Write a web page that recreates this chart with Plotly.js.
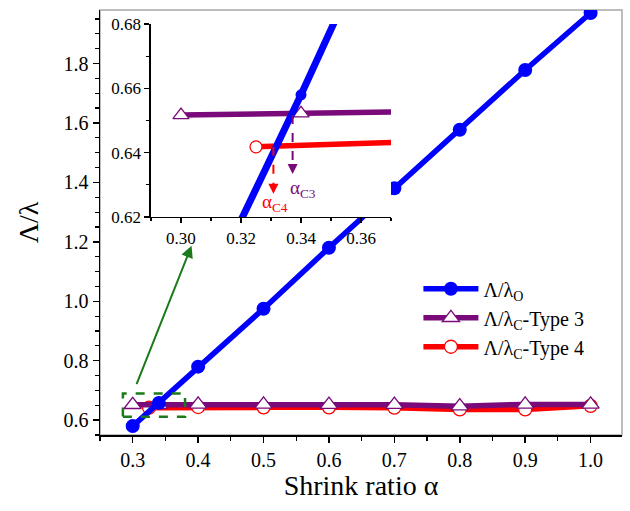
<!DOCTYPE html>
<html><head><meta charset="utf-8">
<script src="https://cdn.plot.ly/plotly-3.0.1.min.js"></script>
<style>
html,body{margin:0;padding:0;background:#fff}#chart{width:630px;height:511px}
</style>
</head><body><div id="chart"></div>
<script>
// ---- data ----
const alphaO  = [0.30, 0.34, 0.40, 0.50, 0.60, 0.70, 0.80, 0.90, 1.00];
const ratioO  = [0.580, 0.658, 0.780, 0.975, 1.180, 1.380, 1.577, 1.778, 1.970];
const alphaC3 = [0.30, 0.34, 0.40, 0.50, 0.60, 0.70, 0.80, 0.90, 1.00];
const ratioC3 = [0.6517, 0.6522, 0.653, 0.653, 0.652, 0.652, 0.647, 0.653, 0.653];
const alphaC4 = [0.325, 0.40, 0.50, 0.60, 0.70, 0.80, 0.90, 1.00];
const ratioC4 = [0.6418, 0.6440, 0.643, 0.643, 0.642, 0.636, 0.636, 0.648];
const seriesNames = ['Λ/λ<sub>O</sub>', 'Λ/λ<sub>C</sub>-Type 3', 'Λ/λ<sub>C</sub>-Type 4'];
const xTickVals = [0.3, 0.4, 0.5, 0.6, 0.7, 0.8, 0.9, 1.0];
const xTickText = ['0.3', '0.4', '0.5', '0.6', '0.7', '0.8', '0.9', '1.0'];
const yTickVals = [0.6, 0.8, 1.0, 1.2, 1.4, 1.6, 1.8];
const yTickText = ['0.6', '0.8', '1.0', '1.2', '1.4', '1.6', '1.8'];
const inXTickVals = [0.30, 0.32, 0.34, 0.36];
const inXTickText = ['0.30', '0.32', '0.34', '0.36'];
const inYTickVals = [0.62, 0.64, 0.66, 0.68];
const inYTickText = ['0.62', '0.64', '0.66', '0.68'];
const critLabels = ['α<sub>C4</sub>', 'α<sub>C3</sub>'];
const critAlpha = [0.3308, 0.3372];
const critStart = [0.6418, 0.6517];

const BLUE = '#0000ff', PURPLE = '#7a0a7a', RED = '#ff0000', GREEN = '#1b7a1b';
const FONT = 'Liberation Serif';

const traces = [
  {x: alphaC4, y: ratioC4, name: seriesNames[2], mode: 'lines+markers', xaxis: 'x', yaxis: 'y',
   legendrank: 3, line: {color: RED, width: 5.5},
   marker: {symbol: 'circle', size: 13, color: '#ffffff', line: {color: RED, width: 1.3}}},
  {x: alphaC3, y: ratioC3, name: seriesNames[1], mode: 'lines+markers', xaxis: 'x', yaxis: 'y',
   legendrank: 2, line: {color: PURPLE, width: 5.5},
   marker: {symbol: 'triangle-up', size: 15, color: '#ffffff', line: {color: PURPLE, width: 1.3}}},
  {x: alphaO, y: ratioO, name: seriesNames[0], mode: 'lines+markers', xaxis: 'x', yaxis: 'y',
   legendrank: 1, line: {color: BLUE, width: 5.5},
   marker: {symbol: 'circle', size: 14, color: BLUE}},
  {x: alphaC4, y: ratioC4, mode: 'lines+markers', xaxis: 'x3', yaxis: 'y3', showlegend: false,
   line: {color: RED, width: 5.5},
   marker: {symbol: 'circle', size: 12, color: '#ffffff', line: {color: RED, width: 1.3}}},
  {x: alphaC3, y: ratioC3, mode: 'lines+markers', xaxis: 'x3', yaxis: 'y3', showlegend: false,
   line: {color: PURPLE, width: 5.5},
   marker: {symbol: 'triangle-up', size: 14, color: '#ffffff', line: {color: PURPLE, width: 1.3}}},
  {x: alphaO, y: ratioO, mode: 'lines+markers', xaxis: 'x3', yaxis: 'y3', showlegend: false,
   line: {color: BLUE, width: 7},
   marker: {symbol: 'circle', size: 11, color: BLUE}}
];

const tickFont = {family: FONT, size: 20, color: '#000'};
const inFont = {family: FONT, size: 17, color: '#000'};

const layout = {
  width: 630, height: 511,
  margin: {l: 100, r: 8, t: 10, b: 76},
  paper_bgcolor: '#ffffff', plot_bgcolor: '#ffffff',
  font: {family: FONT, color: '#000'},
  showlegend: true,
  legend: {x: 0.61, y: 0.39, xanchor: 'left', yanchor: 'top', bgcolor: 'rgba(0,0,0,0)',
           font: {family: FONT, size: 20, color: '#000'}, traceorder: 'normal',
           itemwidth: 55},
  xaxis: {domain: [0, 1], anchor: 'y', range: [0.25, 1.048],
          tickmode: 'array', tickvals: xTickVals, ticktext: xTickText,
          ticks: 'outside', ticklen: 6, tickwidth: 1.5, tickcolor: '#000',
          minor: {dtick: 0.05, tick0: 0.3, ticks: 'outside', ticklen: 4, tickwidth: 1.2, tickcolor: '#000'},
          showline: true, linecolor: '#000', linewidth: 1.5, showgrid: false, zeroline: false,
          tickfont: tickFont,
          title: {text: 'Shrink ratio α', font: {family: FONT, size: 28, color: '#000'}, standoff: 6}},
  yaxis: {domain: [0, 1], anchor: 'x', range: [0.55, 1.98],
          tickmode: 'array', tickvals: yTickVals, ticktext: yTickText,
          ticks: 'outside', ticklen: 6, tickwidth: 1.5, tickcolor: '#000',
          minor: {dtick: 0.05, tick0: 0.6, ticks: 'outside', ticklen: 4, tickwidth: 1.2, tickcolor: '#000'},
          showline: true, linecolor: '#000', linewidth: 1.5, showgrid: false, zeroline: false,
          tickfont: tickFont,
          title: {text: 'Λ/λ', font: {family: FONT, size: 28, color: '#000'}, standoff: 16}},
  xaxis2: {domain: [0.006, 0.569], anchor: 'y2', range: [0, 1], showline: true, mirror: true,
           linecolor: '#bcd9bc', linewidth: 1.5, showticklabels: false, ticks: '', showgrid: false,
           zeroline: false, fixedrange: true},
  yaxis2: {domain: [0.452, 0.99], anchor: 'x2', range: [0, 1], showline: true, mirror: true,
           linecolor: '#bcd9bc', linewidth: 1.5, showticklabels: false, ticks: '', showgrid: false,
           zeroline: false, fixedrange: true},
  xaxis3: {domain: [0.0977, 0.5575], anchor: 'y3', range: [0.29, 0.37],
           tickmode: 'array', tickvals: inXTickVals, ticktext: inXTickText,
           ticks: 'outside', ticklen: 5, tickwidth: 1.5, tickcolor: '#000',
           minor: {dtick: 0.01, tick0: 0.29, ticks: 'outside', ticklen: 3, tickwidth: 1.2, tickcolor: '#000'},
           showline: true, linecolor: '#000', linewidth: 1.5, showgrid: false, zeroline: false,
           tickfont: inFont},
  yaxis3: {domain: [0.513, 0.967], anchor: 'x3', range: [0.62, 0.68],
           tickmode: 'array', tickvals: inYTickVals, ticktext: inYTickText,
           ticks: 'outside', ticklen: 5, tickwidth: 1.5, tickcolor: '#000',
           minor: {dtick: 0.01, tick0: 0.62, ticks: 'outside', ticklen: 3, tickwidth: 1.2, tickcolor: '#000'},
           showline: true, linecolor: '#000', linewidth: 1.5, showgrid: false, zeroline: false,
           tickfont: inFont},
  shapes: [
    {type: 'rect', xref: 'paper', yref: 'paper', x0: 0, x1: 1, y0: 0, y1: 1,
     line: {color: '#a8a8a8', width: 1.5}, layer: 'below'},
    {type: 'rect', xref: 'x', yref: 'y', x0: 0.285, x1: 0.38, y0: 0.611, y1: 0.69,
     line: {color: GREEN, width: 2.5, dash: 'dash'}, layer: 'above'},
    {type: 'line', xref: 'x3', yref: 'y3', x0: critAlpha[0], x1: critAlpha[0], y0: critStart[0], y1: 0.629,
     line: {color: RED, width: 2, dash: 'dash'}},
    {type: 'line', xref: 'x3', yref: 'y3', x0: critAlpha[1], x1: critAlpha[1], y0: critStart[1], y1: 0.6352,
     line: {color: PURPLE, width: 2, dash: 'dash'}}
  ],
  annotations: [
    {xref: 'x', yref: 'y', axref: 'x', ayref: 'y', x: 0.39, y: 1.187, ax: 0.305, ay: 0.716,
     text: '', showarrow: true, arrowhead: 2, arrowsize: 1.2, arrowwidth: 2, arrowcolor: GREEN},
    {xref: 'x3', yref: 'y3', x: critAlpha[0], y: 0.6272, ax: 0, ay: -8, text: '', showarrow: true,
     arrowhead: 2, arrowsize: 1, arrowwidth: 2, arrowcolor: RED},
    {xref: 'x3', yref: 'y3', x: critAlpha[1], y: 0.6334, ax: 0, ay: -8, text: '', showarrow: true,
     arrowhead: 2, arrowsize: 1, arrowwidth: 2, arrowcolor: PURPLE},
    {xref: 'x3', yref: 'y3', x: 0.3312, y: 0.6245, text: critLabels[0], showarrow: false,
     font: {family: FONT, size: 19, color: RED}},
    {xref: 'x3', yref: 'y3', x: 0.3405, y: 0.6288, text: critLabels[1], showarrow: false,
     font: {family: FONT, size: 19, color: PURPLE}}
  ]
};

Plotly.newPlot('chart', traces, layout, {staticPlot: true, displayModeBar: false});
</script>
</body></html>
